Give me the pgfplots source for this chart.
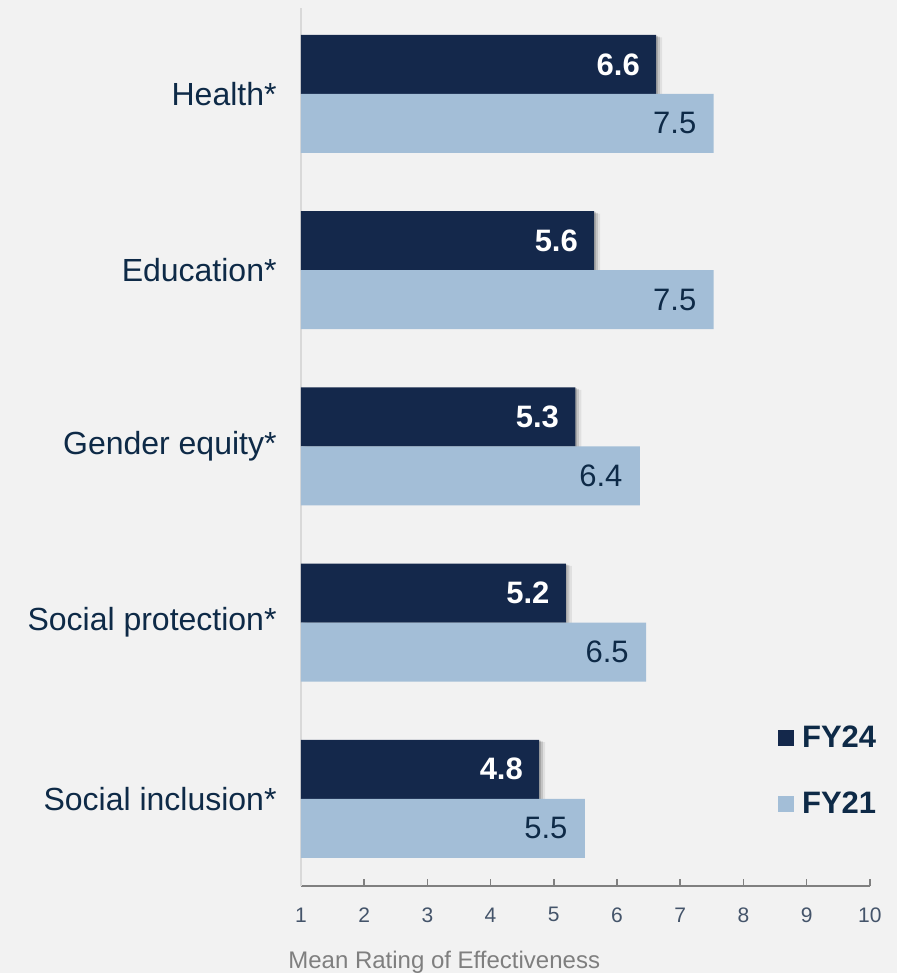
\documentclass[border=0pt]{standalone}
\usepackage{pgfplots}
\pgfplotsset{compat=1.18}
\usepackage{fontspec}
\setmainfont{Liberation Sans}
\definecolor{bg}{HTML}{F2F2F2}
\definecolor{fyd}{HTML}{14284B}
\definecolor{fyl}{HTML}{A3BED7}
\definecolor{navy}{HTML}{0E2A47}
\definecolor{ticktext}{HTML}{44546A}
\definecolor{axgray}{HTML}{808080}
\definecolor{ylgray}{HTML}{D9D9D9}
\definecolor{xlab}{HTML}{7F7F7F}
\begin{document}
\begin{tikzpicture}
\fill[bg] (0,0) rectangle (448.5bp,486.5bp);
\begin{axis}[
  name=ax,
  at={(150.5bp,43.5bp)}, anchor=south west,
  scale only axis, width=284.5bp, height=439bp,
  xmin=1, xmax=10, ymin=-0.494, ymax=4.488,
  axis x line*=bottom, axis y line*=left,
  x axis line style={-, draw=axgray, line width=0.8bp},
  y axis line style={-, draw=ylgray, line width=0.8bp},
  xtick={1,2,3,4,5,6,7,8,9,10}, tick align=inside, major tick length=3.5bp,
  xtick style={draw=axgray, line width=0.8bp},
  ytick={0,1,2,3,4},
  yticklabels={Social inclusion*, Social protection*, Gender equity*, Education*, Health*},
  ytick style={draw=none},
  /pgf/number format/assume math mode=true,
  xticklabel style={font=\fontsize{10.5bp}{12bp}\selectfont, text=ticktext, anchor=center, yshift=-14.5bp, inner sep=0pt},
  yticklabel style={font=\fontsize{16bp}{19bp}\selectfont, text=navy, inner sep=0pt, xshift=-8.5bp, anchor=east},
  xbar, bar width=29.5bp,
  legend cell align=left,
  legend style={at={(0.838,0.183)}, anchor=north west, draw=none, fill=none, inner sep=0pt,
    row sep=20.8bp, column sep=4bp,
    nodes={inner sep=0pt, text=navy, font=\bfseries\fontsize{15.5bp}{18bp}\selectfont}},
]
% soft shadow layers behind FY24 bars
\addplot[forget plot, xbar, bar shift=14.75bp, fill=black, draw=none, fill opacity=0.07, xshift=3bp, yshift=-1.2bp]
  coordinates {(6.62,4) (5.64,3) (5.34,2) (5.19,1) (4.77,0)};
\addplot[forget plot, xbar, bar shift=14.75bp, fill=black, draw=none, fill opacity=0.12, xshift=1.8bp, yshift=-0.8bp]
  coordinates {(6.62,4) (5.64,3) (5.34,2) (5.19,1) (4.77,0)};
\addplot[forget plot, xbar, bar shift=14.75bp, fill=black, draw=none, fill opacity=0.15, xshift=0.8bp, yshift=-0.4bp]
  coordinates {(6.62,4) (5.64,3) (5.34,2) (5.19,1) (4.77,0)};
% FY24
\addplot[xbar, bar shift=14.75bp, fill=fyd, draw=none,
  legend image code/.code={\fill[fyd] (0bp,-4bp) rectangle (8bp,4bp);},
  point meta=x, nodes near coords,
  nodes near coords={\pgfmathprintnumber[fixed,precision=1,fixed zerofill]{\pgfplotspointmeta}},
  every node near coord/.append style={anchor=east, xshift=-8bp, inner sep=0pt, text=white,
    font=\bfseries\fontsize{15.5bp}{18bp}\selectfont}]
  coordinates {(6.62,4) (5.64,3) (5.34,2) (5.19,1) (4.77,0)};
\addlegendentry{FY24}
% FY21
\addplot[xbar, bar shift=-14.75bp, fill=fyl, draw=none,
  legend image code/.code={\fill[fyl] (0bp,-4bp) rectangle (8bp,4bp);},
  point meta=x, nodes near coords,
  nodes near coords={\pgfmathprintnumber[fixed,precision=1,fixed zerofill]{\pgfplotspointmeta}},
  every node near coord/.append style={anchor=east, xshift=-8.5bp, inner sep=0pt, text=navy,
    font=\fontsize{15.5bp}{18bp}\selectfont}]
  coordinates {(7.53,4) (7.53,3) (6.36,2) (6.46,1) (5.49,0)};
\addlegendentry{FY21}
\end{axis}
\node[anchor=west, inner sep=0pt, text=xlab, font=\fontsize{12bp}{14bp}\selectfont]
  at ([xshift=-6.5bp,yshift=-38bp]ax.south west) {Mean Rating of Effectiveness};
\end{tikzpicture}
\end{document}
